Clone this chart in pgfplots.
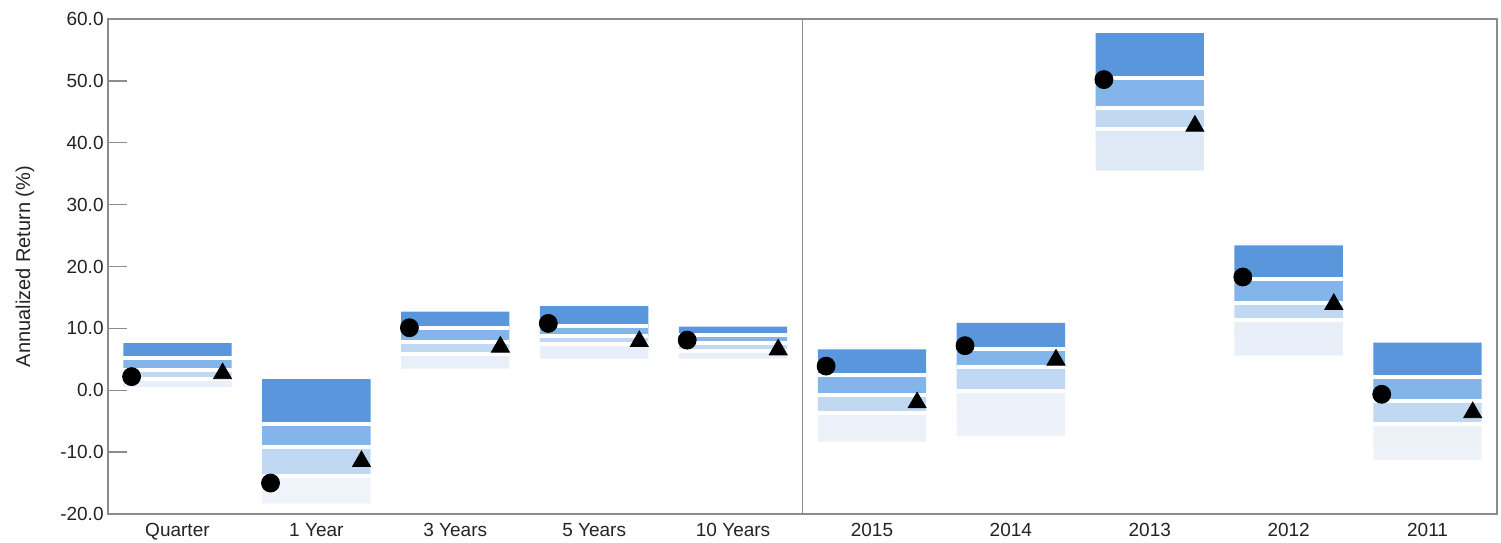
\documentclass[border=0pt]{standalone}
\usepackage{pgfplots}
\usepackage{pgfplotstable}
\pgfplotsset{compat=1.18}
\usepackage{fontspec}
\setmainfont{Liberation Sans}

\definecolor{q1}{RGB}{89,150,220}
\definecolor{q2}{RGB}{131,181,234}
\definecolor{q3}{RGB}{193,216,242}
\definecolor{q4}{RGB}{222,232,246}
\definecolor{q4b}{RGB}{240,244,250}
\definecolor{axgray}{RGB}{140,140,140}
\definecolor{txt}{RGB}{35,35,35}

% x bottom(95th) b3(75th) b2(median) b1(25th) top(5th) circle triangle
\pgfplotstableread{
x bottom b3    b2    b1    top  circ  tri
0  0.5   1.8   3.2   5.2   7.6  2.2   2.7
1 -18.3 -13.9 -9.1  -5.4   1.8 -15.0 -11.5
2  3.5   5.8   7.8  10.1  12.7 10.1   7.0
3  5.1   7.4   8.8  10.4  13.6 10.8   7.9
4  5.1   6.4   7.6   8.9  10.3  8.1   6.55
5 -8.3  -3.6  -0.75  2.4   6.6  3.9  -2.0
6 -7.4  -0.2   3.7   6.6  10.9  7.2   4.9
7  35.5  42.2 45.6  50.5  57.7 50.2  42.7
8  5.6  11.3  14.1  17.9  23.4 18.3  13.9
9 -11.3 -5.4  -1.7   2.2   7.7 -0.65 -3.6
}\bands

\pgfplotsset{
  base/.style={
    width=694.5pt, height=247.5pt, scale only axis,
    xmin=-0.5, xmax=9.5, ymin=-20, ymax=60,
  }
}

\begin{document}
\begin{tikzpicture}
\begin{axis}[
  base,
  ybar stacked, stack negative=on previous, bar width=0.78,
  axis line style={axgray, line width=0.7pt},
  ytick={-20,-10,...,60},
  yticklabels={-20.0,-10.0,0.0,10.0,20.0,30.0,40.0,50.0,60.0},
  ytick pos=left, tick align=inside,
  major tick length=9.5pt,
  ytick style={axgray, line width=0.7pt},
  xtick={0,...,9},
  xticklabels={Quarter,1 Year,3 Years,5 Years,10 Years,2015,2014,2013,2012,2011},
  xtick style={draw=none},
  tick label style={font=\fontsize{9.5}{11}\selectfont, text=txt},
  yticklabel style={inner sep=0pt, xshift=-2pt},
  xticklabel style={yshift=-1.3pt},
  ylabel={Annualized Return (\%)},
  ylabel style={font=\fontsize{10}{12}\selectfont, text=txt,
    at={(axis description cs:-0.0598,0.5)}, anchor=center},
]
\addplot[fill=none, draw=none] table[x=x, y=bottom] {\bands};
\addplot[draw=none, top color=q4, bottom color=q4b] table[x=x, y expr=\thisrow{b3}-\thisrow{bottom}] {\bands};
\addplot[draw=none, fill=q3] table[x=x, y expr=\thisrow{b2}-\thisrow{b3}] {\bands};
\addplot[draw=none, fill=q2] table[x=x, y expr=\thisrow{b1}-\thisrow{b2}] {\bands};
\addplot[draw=none, fill=q1] table[x=x, y expr=\thisrow{top}-\thisrow{b1}] {\bands};
\draw[axgray, line width=0.7pt] (axis cs:4.5,-20) -- (axis cs:4.5,60);
\coordinate (bl) at (rel axis cs:0,0);
\coordinate (tr) at (rel axis cs:1,1);
\end{axis}
\begin{axis}[base, hide axis]
\addplot[only marks, mark=-, mark size=27.1pt, mark options={white, line width=2pt}] table[x=x, y=b1] {\bands};
\addplot[only marks, mark=-, mark size=27.1pt, mark options={white, line width=2pt}] table[x=x, y=b2] {\bands};
\addplot[only marks, mark=-, mark size=27.1pt, mark options={white, line width=2pt}] table[x=x, y=b3] {\bands};
\addplot[only marks, mark=*, mark size=4.5pt, black] table[x expr=\thisrow{x}-0.33, y=circ] {\bands};
\addplot[only marks, mark=triangle*, mark size=5.2pt, black] table[x expr=\thisrow{x}+0.325, y=tri] {\bands};
\end{axis}
\pgfresetboundingbox
\path ([shift={(-54pt,-14.5pt)}]bl) rectangle ([shift={(2pt,9.5pt)}]tr);
\end{tikzpicture}
\end{document}
